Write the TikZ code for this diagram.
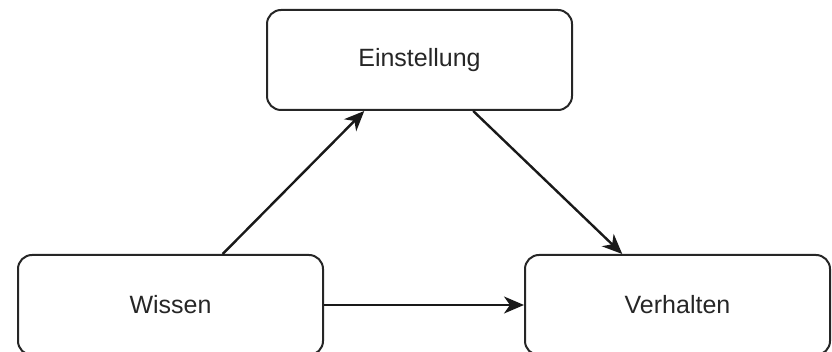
\documentclass[tikz,border=0pt]{standalone}
\usepackage{fontspec}
\setmainfont{Liberation Sans}
\usetikzlibrary{calc,arrows.meta}
\begin{document}
\begin{tikzpicture}[x=1pt,y=-1pt,
  box/.style={draw=black!85,line width=2pt,rounded corners=14pt,minimum width=305pt,minimum height=100pt,inner sep=0pt,font=\fontsize{25}{30}\selectfont,text=black!85},
  conn/.style={draw=black!90,line width=2.4pt,-{Stealth[length=20pt,width=17pt,inset=6pt]}}]
\useasboundingbox (0,0) rectangle (832,352);
\node[box] (E) at (419.5,60) {Einstellung};
\node[box] (W) at (170.5,305) {Wissen};
\node[box] (V) at (677.5,305) {Verhalten};
\draw[conn] ($(W.north west)!0.67!(W.north east)$) -- ($(E.south west)!0.32!(E.south east)$);
\draw[conn] ($(E.south west)!0.675!(E.south east)$) -- ($(V.north west)!0.32!(V.north east)$);
\draw[conn] (W.east) -- (V.west);
\end{tikzpicture}
\end{document}
